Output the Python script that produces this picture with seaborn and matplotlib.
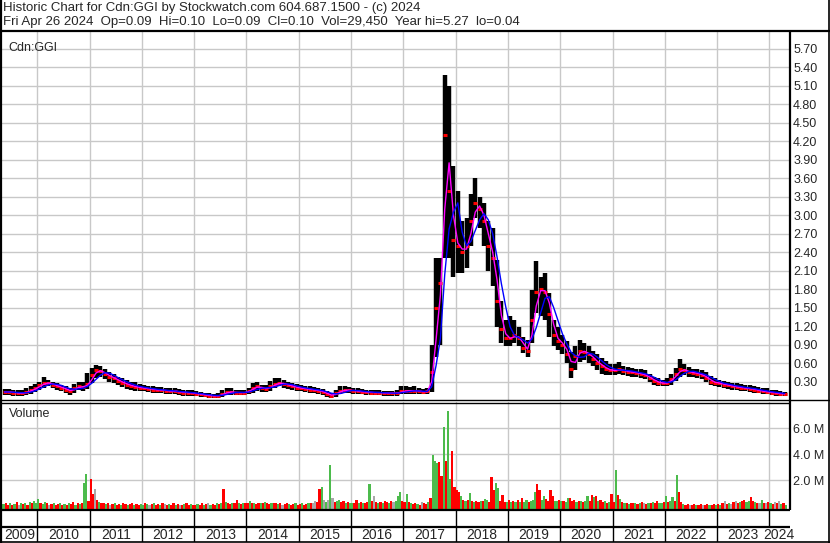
import numpy as np
import pandas as pd
import matplotlib
matplotlib.use("Agg")
import matplotlib.pyplot as plt
from matplotlib.lines import Line2D
import seaborn as sns

# ---- monthly price bars, May 2009 .. Apr 2024 ----
price_hi = [
    0.18, 0.18, 0.17, 0.16, 0.16, 0.19, 0.23, 0.26,                    # 2009 May-Dec
    0.30, 0.37, 0.33, 0.30, 0.27, 0.25, 0.22, 0.20, 0.26, 0.30, 0.29, 0.44,  # 2010
    0.52, 0.57, 0.55, 0.50, 0.45, 0.42, 0.38, 0.35, 0.32, 0.30, 0.29, 0.26,  # 2011
    0.24, 0.23, 0.22, 0.21, 0.21, 0.20, 0.19, 0.19, 0.18, 0.17, 0.17, 0.16,  # 2012
    0.14, 0.13, 0.12, 0.11, 0.10, 0.11, 0.16, 0.20, 0.19, 0.17, 0.17, 0.17,  # 2013
    0.19, 0.27, 0.29, 0.25, 0.24, 0.31, 0.36, 0.35, 0.32, 0.30, 0.28, 0.26,  # 2014
    0.24, 0.23, 0.22, 0.21, 0.20, 0.18, 0.14, 0.11, 0.17, 0.22, 0.22, 0.21,  # 2015
    0.20, 0.19, 0.18, 0.17, 0.17, 0.16, 0.16, 0.15, 0.15, 0.15, 0.16, 0.23,  # 2016
    0.23, 0.21, 0.23, 0.19, 0.18, 0.19, 0.90, 2.30, 2.30, 5.27, 5.10, 3.80,  # 2017
    3.40, 2.90, 2.95, 3.35, 3.60, 3.30, 3.20, 2.90, 2.80, 2.27, 1.60, 1.30,  # 2018
    1.36, 1.30, 1.19, 1.03, 0.98, 1.79, 2.25, 2.00, 2.06, 1.73, 1.30, 1.19,  # 2019
    1.05, 0.95, 0.78, 0.88, 0.98, 0.92, 0.88, 0.80, 0.75, 0.68, 0.63, 0.58,  # 2020
    0.58, 0.62, 0.55, 0.53, 0.52, 0.51, 0.50, 0.48, 0.43, 0.38, 0.35, 0.33,  # 2021
    0.35, 0.42, 0.52, 0.66, 0.58, 0.53, 0.51, 0.50, 0.48, 0.45, 0.39, 0.35,  # 2022
    0.33, 0.31, 0.30, 0.28, 0.27, 0.26, 0.25, 0.24, 0.23, 0.21, 0.20, 0.19,  # 2023
    0.17, 0.16, 0.15, 0.13,                                              # 2024 Jan-Apr
]
price_lo = [
    0.08, 0.08, 0.07, 0.07, 0.07, 0.08, 0.10, 0.13,
    0.17, 0.20, 0.22, 0.19, 0.16, 0.14, 0.11, 0.08, 0.12, 0.16, 0.15, 0.18,
    0.28, 0.36, 0.38, 0.34, 0.30, 0.27, 0.24, 0.21, 0.18, 0.16, 0.15, 0.14,
    0.14, 0.13, 0.12, 0.11, 0.11, 0.10, 0.09, 0.09, 0.08, 0.07, 0.07, 0.06,
    0.06, 0.05, 0.045, 0.04, 0.04, 0.04, 0.05, 0.08, 0.08, 0.08, 0.08, 0.08,
    0.09, 0.12, 0.15, 0.13, 0.13, 0.15, 0.19, 0.22, 0.20, 0.18, 0.17, 0.15,
    0.14, 0.13, 0.12, 0.11, 0.10, 0.08, 0.045, 0.04, 0.05, 0.09, 0.11, 0.11,
    0.10, 0.09, 0.09, 0.08, 0.08, 0.08, 0.075, 0.07, 0.07, 0.07, 0.07, 0.09,
    0.10, 0.10, 0.10, 0.09, 0.09, 0.09, 0.13, 0.70, 0.90, 2.30, 2.30, 2.00,
    2.06, 2.06, 2.15, 2.50, 2.95, 2.80, 2.50, 2.10, 1.85, 1.19, 0.92, 0.87,
    0.87, 0.92, 0.87, 0.76, 0.69, 0.92, 1.41, 1.36, 1.30, 1.03, 0.87, 0.81,
    0.75, 0.60, 0.36, 0.48, 0.62, 0.65, 0.60, 0.55, 0.48, 0.43, 0.40, 0.40,
    0.40, 0.42, 0.40, 0.39, 0.38, 0.38, 0.36, 0.34, 0.29, 0.25, 0.23, 0.22,
    0.22, 0.25, 0.31, 0.38, 0.40, 0.38, 0.37, 0.36, 0.34, 0.30, 0.25, 0.22,
    0.21, 0.19, 0.18, 0.17, 0.16, 0.15, 0.14, 0.13, 0.12, 0.11, 0.10, 0.09,
    0.08, 0.07, 0.06, 0.07,
]
price_close = [
    0.13, 0.13, 0.12, 0.11, 0.11, 0.13, 0.16, 0.19,
    0.24, 0.27, 0.28, 0.25, 0.22, 0.20, 0.17, 0.14, 0.19, 0.22, 0.21, 0.26,
    0.40, 0.48, 0.47, 0.42, 0.38, 0.35, 0.31, 0.28, 0.25, 0.23, 0.21, 0.20,
    0.19, 0.18, 0.17, 0.16, 0.16, 0.15, 0.14, 0.14, 0.13, 0.12, 0.12, 0.11,
    0.10, 0.09, 0.08, 0.07, 0.065, 0.07, 0.10, 0.13, 0.13, 0.12, 0.12, 0.12,
    0.15, 0.20, 0.22, 0.19, 0.18, 0.22, 0.26, 0.28, 0.26, 0.24, 0.22, 0.20,
    0.19, 0.18, 0.17, 0.16, 0.15, 0.13, 0.09, 0.07, 0.11, 0.15, 0.16, 0.16,
    0.15, 0.14, 0.13, 0.13, 0.12, 0.12, 0.12, 0.11, 0.11, 0.11, 0.11, 0.14,
    0.15, 0.15, 0.15, 0.14, 0.13, 0.14, 0.45, 1.50, 1.90, 4.30, 3.40, 2.60,
    2.50, 2.40, 2.50, 2.90, 3.20, 3.10, 2.90, 2.50, 2.30, 1.60, 1.15, 1.00,
    1.00, 1.05, 1.00, 0.85, 0.80, 1.30, 1.75, 1.80, 1.75, 1.40, 1.05, 0.95,
    0.90, 0.75, 0.50, 0.72, 0.80, 0.78, 0.74, 0.66, 0.60, 0.55, 0.50, 0.48,
    0.48, 0.50, 0.47, 0.46, 0.45, 0.44, 0.42, 0.40, 0.35, 0.31, 0.28, 0.27,
    0.28, 0.34, 0.42, 0.50, 0.48, 0.45, 0.44, 0.43, 0.40, 0.36, 0.30, 0.28,
    0.27, 0.25, 0.24, 0.22, 0.21, 0.20, 0.19, 0.18, 0.17, 0.15, 0.14, 0.13,
    0.12, 0.11, 0.10, 0.10,
]

# ---- half-monthly volume (millions), May 2009 .. Apr 2024; g=up r=down k=flat ----
volume = [
    0.15, 0.2, 0.1, 0.25, 0.1, 0.15, 0.3, 0.1, 0.2, 0.15, 0.25, 0.1, 0.3, 0.2, 0.35, 0.25,  # 2009
    0.54, 0.2, 0.15, 0.3, 0.2, 0.1, 0.15, 0.2, 0.1, 0.15, 0.25, 0.1,
    0.15, 0.1, 0.2, 0.15, 0.3, 0.1, 0.2, 0.15, 0.25, 1.8, 2.5, 0.4,      # 2010
    2.05, 0.9, 1.28, 0.5, 0.3, 0.2, 0.25, 0.15, 0.2, 0.1, 0.15, 0.2,
    0.1, 0.15, 0.1, 0.2, 0.15, 0.1, 0.15, 0.2, 0.1, 0.15, 0.1, 0.15,     # 2011
    0.1, 0.2, 0.15, 0.1, 0.15, 0.2, 0.1, 0.15, 0.1, 0.2, 0.15, 0.1,
    0.15, 0.1, 0.2, 0.1, 0.15, 0.1, 0.1, 0.15, 0.2, 0.1, 0.15, 0.1,      # 2012
    0.1, 0.15, 0.1, 0.2, 0.1, 0.15, 0.2, 0.1, 0.15, 0.1, 0.2, 0.15,
    0.25, 1.28, 0.3, 0.2, 0.15, 0.25, 0.2, 0.5, 0.2, 0.15, 0.25, 0.2,    # 2013
    0.2, 0.39, 0.25, 0.2, 0.15, 0.2, 0.25, 0.2, 0.3, 0.2, 0.15, 0.2,
    0.25, 0.2, 0.15, 0.2, 0.1, 0.15, 0.2, 0.15, 0.1, 0.15, 0.2, 0.1,     # 2014
    0.15, 0.2, 0.1, 0.15, 0.2, 0.25, 0.2, 0.4, 0.3, 1.28, 1.5, 0.5,
    0.3, 0.5, 3.15, 0.6, 0.3, 0.4, 0.5, 0.3, 0.4, 0.2, 0.3, 0.25,        # 2015
    0.2, 0.25, 0.47, 0.2, 0.3, 0.25, 0.2, 0.3, 1.67, 0.35, 0.77, 0.3,
    0.25, 0.3, 0.2, 0.35, 0.3, 0.25, 0.4, 0.3, 0.35, 0.77, 1.05, 0.4,    # 2016
    0.3, 0.92, 0.3, 0.2, 0.15, 0.2, 0.15, 0.1, 0.3, 0.2, 0.15, 0.3,
    0.6, 3.9, 3.5, 3.3, 3.4, 2.3, 6.1, 3.5, 7.3, 2.1, 4.2, 1.5,          # 2017
    1.2, 1.1, 0.8, 0.5, 0.4, 0.45, 1.0, 0.4, 0.3, 0.35, 0.3, 0.4,
    0.35, 0.54, 0.45, 0.3, 2.23, 1.2, 1.8, 1.36, 0.4, 0.85, 0.3, 0.3,    # 2018
    0.46, 0.3, 0.35, 0.3, 0.5, 0.3, 0.64, 0.3, 0.45, 0.3, 0.4, 0.5,
    1.1, 1.67, 1.2, 0.5, 0.8, 0.55, 0.4, 1.2, 0.8, 0.35, 0.35, 0.45,     # 2019
    0.35, 0.4, 0.3, 0.58, 0.64, 0.35, 0.46, 0.3, 0.4, 0.35, 0.3, 0.4,
    0.77, 0.35, 0.85, 0.72, 0.77, 0.4, 0.46, 0.3, 0.35, 0.25, 0.3, 0.92, # 2020
    0.3, 2.77, 0.85, 0.54, 0.3, 0.2, 0.25, 0.15, 0.2, 0.25, 0.2, 0.15,
    0.2, 0.3, 0.2, 0.15, 0.25, 0.2, 0.3, 0.25, 0.39, 0.25, 0.2, 0.3,     # 2021
    0.77, 0.3, 0.4, 0.72, 0.35, 2.38, 1.05, 0.3, 0.15, 0.1, 0.15, 0.1,
    0.1, 0.15, 0.1, 0.1, 0.15, 0.1, 0.1, 0.15, 0.1, 0.1, 0.15, 0.1,      # 2022
    0.15, 0.1, 0.2, 0.4, 0.15, 0.2, 0.15, 0.3, 0.35, 0.2, 0.3, 0.35,
    0.46, 0.3, 0.4, 0.67, 0.35, 0.3, 0.2, 0.25, 0.46, 0.2, 0.2, 0.3,     # 2023
    0.2, 0.15, 0.3, 0.2, 0.4, 0.15, 0.2, 0.1,                            # 2024
]
volume_dir = (
    "grrgrgrkgrgrgrgg"
    "grggrkrgrrgrgrgrrgrgrggr"
    "rrkrgrrgrkrgrrgrrgrrgrrg"
    "grgkrgrrgrkrgrrgrkrgrrgr"
    "rgrrgrkgrrgrgrgrrgrrgrgr"
    "rgrgrrgrgrrgrrgrkrrgrrgr"
    "rgrrgrkkrrgkgkgkrggrrgrg"
    "grrgrgrrgrkrgrgrrgrkgggr"
    "rgrgrrgrkrrgrgggrrgrggrr"
    "rrgrgrgrgrrgrggrrrggrrrg"
    "rgrgrgrggrgggrrggrrrrggr"
    "grggrrrgrgrggrrgrgrrgrgr"
    "rgrgrgrgrrgrgrkrgrgrrggr"
    "grggrgrrgrrkrrgrrkrrgrrg"
    "rgrkrgkrkrgrrggrrgrkgrkr"
    "grkrkgrg"
)

header_1 = "Historic Chart for Cdn:GGI by Stockwatch.com 604.687.1500 - (c) 2024"
header_2 = ("Fri Apr 26 2024  Op=0.09  Hi=0.10  Lo=0.09  Cl=0.10  "
            "Vol=29,450  Year hi=5.27  lo=0.04")
price_ticks = [0.30, 0.60, 0.90, 1.20, 1.50, 1.80, 2.10, 2.40, 2.70, 3.00,
               3.30, 3.60, 3.90, 4.20, 4.50, 4.80, 5.10, 5.40, 5.70]
volume_ticks = [2.0, 4.0, 6.0]
years = list(range(2009, 2025))

# time positions (fractional years)
t_month = 2009 + (4 + np.arange(len(price_close)) + 0.5) / 12
t_vol = 2009 + (8 + np.arange(len(volume)) + 0.5) / 24

df = pd.DataFrame({"t": t_month, "hi": price_hi, "lo": price_lo, "close": price_close})
df["ma_fast"] = df["close"].rolling(2, min_periods=1).mean()
df["ma_slow"] = df["close"].rolling(4, min_periods=1).mean()

sns.set_style("white")
plt.rcParams["font.family"] = ["Liberation Sans", "DejaVu Sans"]
plt.rcParams["font.size"] = 9

W, H = 830, 543
fig = plt.figure(figsize=(W / 100, H / 100), dpi=100)
fig.patch.set_facecolor("white")


def box(x0, y0, x1, y1):
    return [x0 / W, 1 - y1 / H, (x1 - x0) / W, (y1 - y0) / H]


def pline(xs, ys, lw):
    fig.add_artist(Line2D([x / W for x in xs], [1 - y / H for y in ys],
                          color="black", lw=lw, transform=fig.transFigure,
                          solid_capstyle="butt"))


XMIN, XMAX = 2009.325, 2024.375
grid_c = "#c8c8c8"

# ---- price panel ----
ax = fig.add_axes(box(2, 31, 789, 400))
ax.set_xlim(XMIN, XMAX)
ax.set_ylim(0, 5.99)
ax.set_xticks(range(2010, 2025))
ax.set_yticks(price_ticks)
ax.grid(True, color=grid_c, lw=1.0)
ax.set_axisbelow(True)
ax.vlines(df["t"], df["lo"], df["hi"], color="black", lw=3.2)
ax.plot(df["t"], df["close"], ls="none", marker="_", ms=3.2, mew=2.2, color="red", zorder=3)
sns.lineplot(data=df, x="t", y="ma_fast", color="#ff00ff", lw=1.0, ax=ax, zorder=4)
sns.lineplot(data=df, x="t", y="ma_slow", color="#0000ff", lw=1.0, ax=ax, zorder=5)
ax.set_xlabel("")
ax.set_ylabel("")
ax.yaxis.tick_right()
ax.tick_params(axis="x", length=0, labelbottom=False)
ax.tick_params(axis="y", length=0, pad=3, labelsize=9)
ax.set_yticklabels([f"{v:.2f}" for v in price_ticks])
for s in ax.spines.values():
    s.set_visible(False)
ax.text(0.008, 0.97, "Cdn:GGI", transform=ax.transAxes, ha="left", va="top", fontsize=9)

# ---- volume panel ----
axv = fig.add_axes(box(2, 402, 789, 509))
axv.set_xlim(XMIN, XMAX)
axv.set_ylim(-0.23, 8.0)
axv.set_xticks(range(2010, 2025))
axv.set_yticks(volume_ticks)
axv.grid(True, color=grid_c, lw=1.0)
axv.set_axisbelow(True)
vcolors = {"g": "#4cbb4c", "r": "#ff0000", "k": "#a8a8a8"}
axv.bar(t_vol, np.array(volume) + 0.23, bottom=-0.23, width=1.0 / 24,
        color=[vcolors[c] for c in volume_dir], lw=0)
axv.yaxis.tick_right()
axv.tick_params(axis="x", length=0, labelbottom=False)
axv.tick_params(axis="y", length=0, pad=3, labelsize=9)
axv.set_yticklabels([f"{v:.1f} M" for v in volume_ticks])
for s in axv.spines.values():
    s.set_visible(False)
axv.text(0.009, 0.94, "Volume", transform=axv.transAxes, ha="left", va="top", fontsize=9)

# ---- year strip ----
axy = fig.add_axes(box(2, 509, 789, 542))
axy.set_xlim(XMIN, XMAX)
axy.set_ylim(0, 1)
axy.axis("off")
for y in range(2010, 2025):
    axy.axvline(y, ymin=0.0, ymax=1.0, color="black", lw=1.0)
for y in years:
    c = (max(y, XMIN) + min(y + 1, XMAX)) / 2
    axy.text(c, 0.22, str(y), ha="center", va="center", fontsize=10,
             bbox=dict(facecolor="white", edgecolor="none", pad=0.3) if y == 2024 else None)

# ---- frame lines ----
pline([0, W], [30.5, 30.5], 1.6)        # under header
pline([1, 1], [0, H], 1.6)              # left
pline([828.5, 828.5], [0, H], 1.2)      # right outer
pline([789.5, 789.5], [30, 510], 1.6)   # right of panels
pline([0, W], [400, 400], 1.0)          # price/volume double line
pline([0, 789], [402.5, 402.5], 1.0)
pline([0, 789.5], [509.5, 509.5], 1.6)
pline([0, 789.5], [527, 527], 1.6)
pline([0, W], [542, 542], 1.2)

fig.text(3 / W, 1 - 8 / H, header_1, ha="left", va="center", fontsize=9.5)
fig.text(3 / W, 1 - 21.5 / H, header_2, ha="left", va="center", fontsize=9.5)

fig.savefig("out.png", dpi=100)
